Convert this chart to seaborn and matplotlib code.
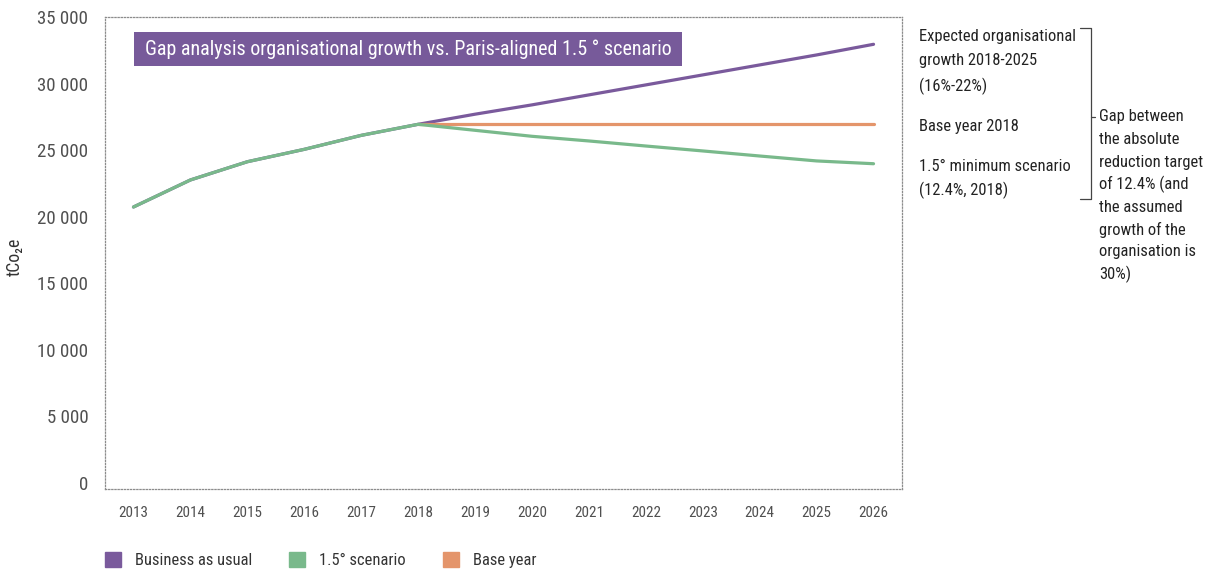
import matplotlib
matplotlib.use("Agg")
import matplotlib.pyplot as plt
import matplotlib.ticker as mticker
from matplotlib import font_manager as fm
from matplotlib.patches import Patch, Rectangle
from matplotlib.lines import Line2D
import seaborn as sns
import numpy as np
import pandas as pd

years = list(range(2013, 2027))
bau = [20730, 22760, 24130, 25060, 26110, 26940,
       27700, 28400, 29150, 29900, 30650, 31400, 32150, 32950]
scenario = [20730, 22760, 24130, 25060, 26110, 26940,
            26490, 26040, 25690, 25310, 24940, 24560, 24190, 23980]
base_years = list(range(2018, 2027))
base = [26940] * len(base_years)

series_names = ["Business as usual", "1.5° scenario", "Base year"]
colors = {"Business as usual": "#7a5a9c",
          "1.5° scenario": "#79b98b",
          "Base year": "#e4956b"}

title = "Gap analysis organisational growth vs. Paris-aligned 1.5 ° scenario"
notes = ["Expected organisational", "growth 2018-2025", "(16%-22%)",
         "Base year 2018",
         "1.5° minimum scenario", "(12.4%, 2018)"]
notes_y = [36, 61, 86, 127, 166, 190]
gap_note = ["Gap between", "the absolute", "reduction target", "of 12.4% (and",
            "the assumed", "growth of the", "organisation is", "30%)"]
gap_y = [117, 139.5, 162, 184.5, 207, 229.5, 252, 274.5]

df = pd.concat([
    pd.DataFrame({"Year": years, "Value": bau, "Series": series_names[0]}),
    pd.DataFrame({"Year": years, "Value": scenario, "Series": series_names[1]}),
    pd.DataFrame({"Year": base_years, "Value": base, "Series": series_names[2]}),
])

sns.set_style("white")

# pick a condensed sans if one is installed (the original uses a condensed face)
fam, stretch = "DejaVu Sans", "normal"
ents = [e for e in fm.fontManager.ttflist
        if e.style == "normal" and e.weight in (400, "normal", "regular")]
prefs = [lambda e: e.name == "Roboto Condensed",
         lambda e: e.name == "Open Sans Condensed",
         lambda e: e.name.startswith("Open Sans") and e.stretch == "condensed",
         lambda e: e.name.startswith("Noto Sans") and "CJK" not in e.name
         and e.stretch == "condensed",
         lambda e: e.name == "Liberation Sans Narrow",
         lambda e: e.name == "DejaVu Sans" and e.stretch == "condensed"]
for p in prefs:
    hit = [e for e in ents if p(e)]
    if hit:
        fam, stretch = hit[0].name, hit[0].stretch
        break
plt.rcParams['font.family'] = [fam, 'DejaVu Sans']
plt.rcParams['font.stretch'] = stretch

W, H = 1212, 574
fig = plt.figure(figsize=(W / 100, H / 100), dpi=100)
renderer = fig.canvas.get_renderer()


def fit(s, px, base=20):
    t = fig.text(0, 0, s, fontsize=base)
    w = t.get_window_extent(renderer).width
    t.remove()
    return base * px / w


ax = fig.add_axes([105 / W, (H - 489) / H, (902 - 105) / W, (489 - 17) / H])

# draw order: base, scenario on top of bau in the shared part
for name in ["Business as usual", "Base year", "1.5° scenario"]:
    sns.lineplot(data=df[df.Series == name], x="Year", y="Value",
                 color=colors[name], lw=2.3, ax=ax, legend=False)

ax.set_xlim(2012.5, 2026.5)
ax.set_ylim(-450, 35000)
ax.set_xticks(years)
ax.set_yticks(np.arange(0, 35001, 5000))
ax.yaxis.set_major_formatter(mticker.FuncFormatter(
    lambda v, p: f"{int(v):,}".replace(",", " ")))
ax.tick_params(axis="both", length=0, labelcolor="#505050")
ax.tick_params(axis="x", pad=12, labelsize=fit("2013", 30))
ax.tick_params(axis="y", pad=12, labelsize=fit("35 000", 51))
ax.set_xlabel("")
ax.set_ylabel("")
fig.text(15 / W, 1 - 257 / H, "tCo₂e", rotation=90, ha="center", va="center",
         fontsize=fit("tCo₂e", 38), color="#333333")

for s in ax.spines.values():
    s.set_linestyle((0, (1, 1.5)))
    s.set_color("#8c8c8c")
    s.set_linewidth(0.9)

# title band
fig.add_artist(Rectangle((134 / W, 1 - 66 / H), (682 - 134) / W, 34 / H,
                         transform=fig.transFigure, fc="#775a9a", ec="none"))
fig.text(145 / W, 1 - 49 / H, title, ha="left", va="center",
         fontsize=fit(title, 526), color="white")

# right-hand notes
fs_note = fit("Expected organisational", 156)
for txt, y in zip(notes, notes_y):
    fig.text(919 / W, 1 - y / H, txt, ha="left", va="center",
             fontsize=fs_note, color="#222222")
for txt, y in zip(gap_note, gap_y):
    fig.text(1099 / W, 1 - y / H, txt, ha="left", va="center",
             fontsize=fs_note, color="#222222")

bx0, bx1 = 1080 / W, 1091 / W
by0, by1 = 1 - 28 / H, 1 - 199 / H
bym = 1 - 117 / H
fig.add_artist(Line2D([bx0, bx1, bx1, bx0], [by0, by0, by1, by1],
                      color="#444444", lw=0.9))
fig.add_artist(Line2D([bx1, 1095 / W], [bym, bym], color="#444444", lw=0.9))

# legend
fs_leg = fit("Business as usual", 117)
em = fs_leg * 100 / 72
handles = [Patch(color=colors[n], label=n) for n in series_names]
fig.legend(handles=handles, loc="center left",
           bbox_to_anchor=(105 / W, 1 - 560 / H), ncol=3, frameon=False,
           fontsize=fs_leg, handlelength=16 / em, handleheight=16 / em,
           handletextpad=14 / em, columnspacing=37 / em, borderpad=0,
           borderaxespad=0, labelcolor="#333333")

fig.savefig("out.png", dpi=100)
